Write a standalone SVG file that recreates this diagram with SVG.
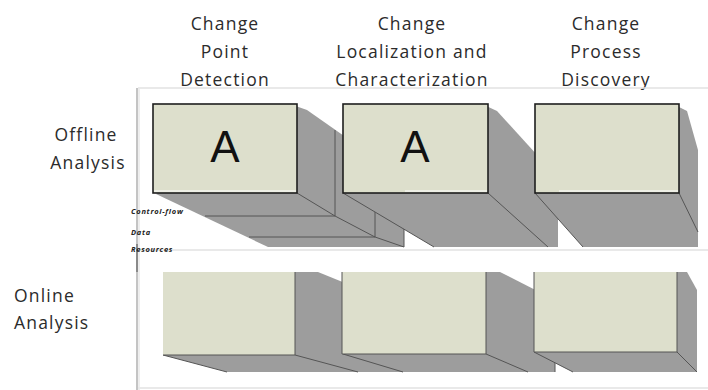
<svg xmlns="http://www.w3.org/2000/svg" width="708" height="390" viewBox="0 0 708 390">
  <style>
    .hdr { font-family: "Open Sans", "Liberation Sans", sans-serif; font-size: 17.5px; letter-spacing: 1.2px; fill: #2b2b2b; text-anchor: middle; }
    .row { font-family: "Open Sans", "Liberation Sans", sans-serif; font-size: 17.5px; letter-spacing: 1.2px; fill: #2b2b2b; }
    .layer { font-family: "Open Sans", "Liberation Sans", sans-serif; font-size: 7.5px; font-style: italic; font-weight: bold; letter-spacing: 0.7px; fill: #222; }
    .big { font-family: "Liberation Sans", Arial, sans-serif; font-size: 44px; fill: #111; text-anchor: middle; }
    .face { fill: #dddfcc; }
    .framed { stroke: #1e1e1e; stroke-width: 1.6; }
    .depth { fill: #9d9d9d; }
    .edge { stroke: #555; stroke-width: 1; fill: none; }
    .hl { stroke: #ffffff; stroke-width: 1; }
    .panel { stroke: #e2e2e2; stroke-width: 1.5; fill: none; }
  </style>

  <rect width="708" height="390" fill="#ffffff"/>

  <!-- column headers -->
  <g id="headers">
    <text class="hdr" x="225" y="30">Change</text>
    <text class="hdr" x="225" y="58">Point</text>
    <text class="hdr" x="225" y="86">Detection</text>
    <text class="hdr" x="412" y="30">Change</text>
    <text class="hdr" x="412" y="58">Localization and</text>
    <text class="hdr" x="412" y="86">Characterization</text>
    <text class="hdr" x="606" y="30">Change</text>
    <text class="hdr" x="606" y="58">Process</text>
    <text class="hdr" x="606" y="86">Discovery</text>
  </g>

  <!-- row labels -->
  <g id="row-labels">
    <text class="row" x="86" y="141" text-anchor="middle">Offline</text>
    <text class="row" x="88" y="169" text-anchor="middle">Analysis</text>
    <text class="row" x="14" y="302">Online</text>
    <text class="row" x="14" y="329">Analysis</text>
  </g>

  <!-- panel frames -->
  <g id="panels">
    <line class="panel" x1="138" y1="88" x2="708" y2="88"/>
    <line class="panel" x1="138" y1="250" x2="708" y2="250"/>
    <line class="panel" x1="138" y1="388" x2="708" y2="388"/>
    <line x1="137" y1="88" x2="137" y2="390" stroke="#c4c4c4" stroke-width="2"/>
    <line x1="139" y1="88" x2="139" y2="390" stroke="#e8e8e8" stroke-width="1.5"/>
    <line x1="137" y1="244" x2="137" y2="272" stroke="#8a8a8a" stroke-width="2"/>
  </g>

  <!-- offline: change point detection, three stacked layers -->
  <g id="offline-cpd">
    <polygon class="depth" points="290,104 307,110 404,178 404,247 268,247 156,194"/>
    <line class="edge" x1="205" y1="216" x2="335" y2="216"/>
    <line class="edge" x1="297" y1="193" x2="335" y2="216"/>
    <line class="edge" x1="335" y1="130" x2="335" y2="216"/>
    <line class="edge" x1="249" y1="237" x2="375" y2="237"/>
    <line class="edge" x1="335" y1="216" x2="375" y2="237"/>
    <line class="edge" x1="375" y1="158" x2="375" y2="237"/>
    <line class="edge" x1="375" y1="237" x2="404" y2="247"/>
    <line class="edge" x1="404" y1="178" x2="404" y2="247"/>
    <rect class="face framed" x="153" y="104" width="144" height="89"/>
    <line class="hl" x1="154" y1="191" x2="296" y2="191"/>
    <text class="big" x="225" y="162">A</text>
    <text class="layer" x="131" y="214">Control-flow</text>
    <text class="layer" x="131" y="235">Data</text>
    <text class="layer" x="131" y="252">Resources</text>
  </g>

  <!-- offline: change localization and characterization -->
  <g id="offline-clc">
    <polygon class="depth" points="482,104 497,111 558,178 558,247 434,247 343,193"/>
    <line class="edge" x1="343" y1="193" x2="434" y2="247"/>
    <line class="edge" x1="488" y1="193" x2="548" y2="247"/>
    <rect class="face framed" x="343" y="104" width="145" height="89"/>
    <line class="hl" x1="405" y1="191" x2="487" y2="191"/>
    <text class="big" x="415" y="162">A</text>
  </g>

  <!-- offline: change process discovery -->
  <g id="offline-cpdisc">
    <polygon class="depth" points="673,104 687,111 698,150 698,247 583,247 535,193"/>
    <line class="edge" x1="535" y1="193" x2="583" y2="247"/>
    <line class="edge" x1="679" y1="193" x2="698" y2="232"/>
    <rect class="face framed" x="535" y="104" width="144" height="89"/>
    <line class="hl" x1="559" y1="191" x2="678" y2="191"/>
  </g>

  <!-- online: change point detection -->
  <g id="online-cpd">
    <polygon class="depth" points="295,272 318,272 404,307 404,372 227,372 163,355"/>
    <line class="edge" x1="163" y1="355" x2="227" y2="372"/>
    <line class="edge" x1="295" y1="355" x2="358" y2="372"/>
    <rect class="face" x="163" y="272" width="132" height="83"/>
    <polyline class="edge" points="163,355 295,355 295,272"/>
  </g>

  <!-- online: change localization and characterization -->
  <g id="online-clc">
    <polygon class="depth" points="486,272 500,272 555,300 555,372 403,372 343,354"/>
    <line class="edge" x1="343" y1="354" x2="403" y2="372"/>
    <line class="edge" x1="486" y1="354" x2="528" y2="372"/>
    <line class="edge" x1="555" y1="300" x2="555" y2="372"/>
    <rect class="face" x="342" y="272" width="144" height="82"/>
    <polyline class="edge" points="342,272 342,354 486,354 486,272"/>
  </g>

  <!-- online: change process discovery -->
  <g id="online-cpdisc">
    <polygon class="depth" points="677,272 687,272 697,290 697,372 573,372 534,352"/>
    <line class="edge" x1="534" y1="352" x2="573" y2="372"/>
    <line class="edge" x1="677" y1="352" x2="697" y2="372"/>
    <rect class="face" x="534" y="272" width="143" height="80"/>
    <polyline class="edge" points="534,272 534,352 677,352 677,272"/>
  </g>
</svg>
